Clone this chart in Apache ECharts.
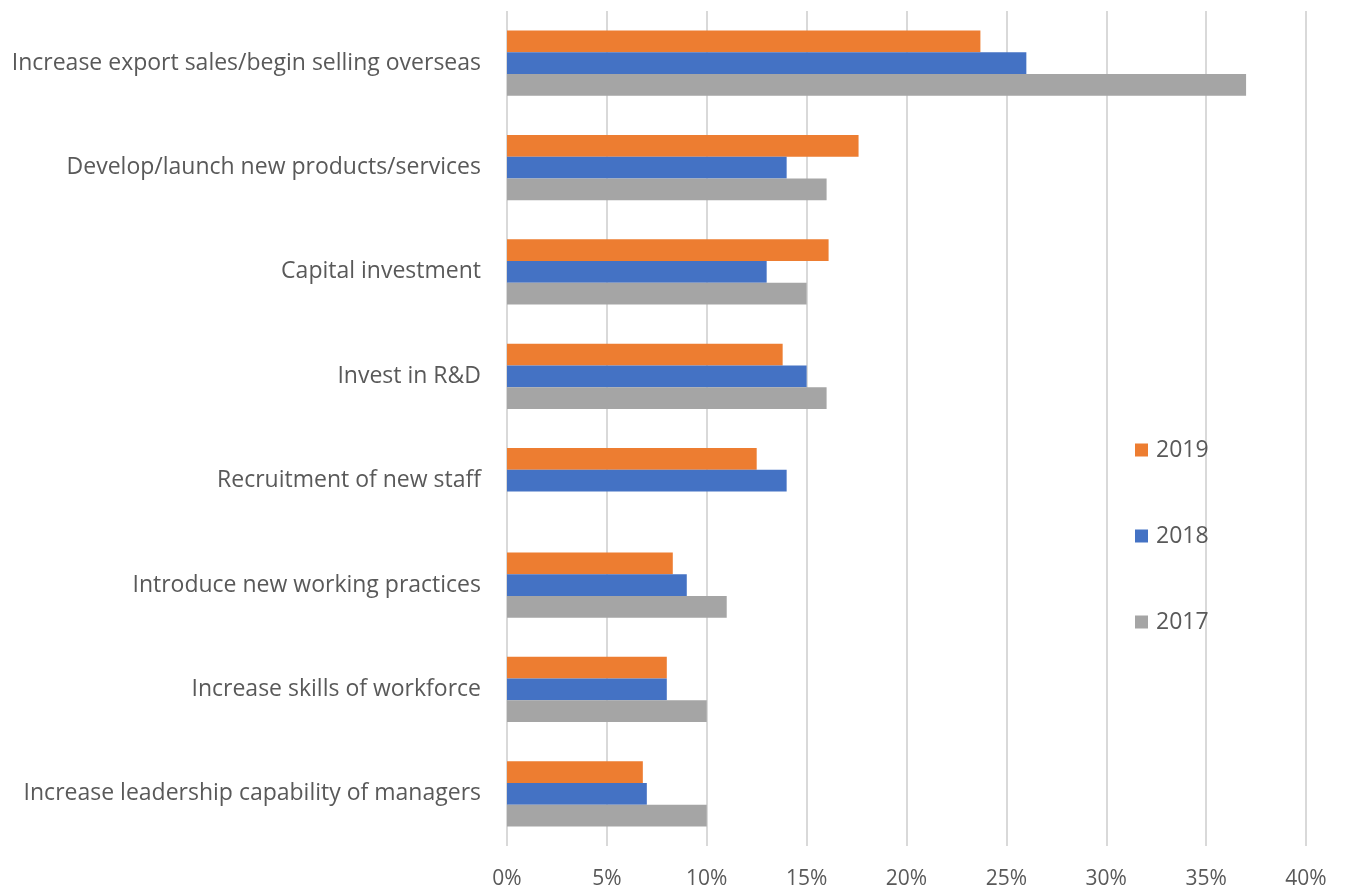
<!DOCTYPE html>
<html>
<head>
<meta charset="utf-8">
<script src="https://cdn.jsdelivr.net/npm/echarts@6/dist/echarts.min.js"></script>
<style>
  html, body { margin: 0; padding: 0; background: #fff; }
  #chart { width: 1345px; height: 894px; }
</style>
</head>
<body>
<div id="chart"></div>
<script>
// Business growth priorities, share of respondents (%)
const categories = [
  'Increase export sales/begin selling overseas',
  'Develop/launch new products/services',
  'Capital investment',
  'Invest in R&D',
  'Recruitment of new staff',
  'Introduce new working practices',
  'Increase skills of workforce',
  'Increase leadership capability of managers'
];
const years = ['2019', '2018', '2017'];
const values2019 = [23.7, 17.6, 16.1, 13.8, 12.5, 8.3, 8.0, 6.8];
const values2018 = [26.0, 14.0, 13.0, 15.0, 14.0, 9.0, 8.0, 7.0];
const values2017 = [37.0, 16.0, 15.0, 16.0, null, 11.0, 10.0, 10.0];
const xTicks = { min: 0, max: 40, interval: 5 };

const colors = ['#ED7D31', '#4472C4', '#A5A5A5'];
const seriesValues = [values2019, values2018, values2017];
const textColor = '#595959';
const fontFamily = 'Open Sans, Liberation Sans, sans-serif';

const chart = echarts.init(document.getElementById('chart'), null, { renderer: 'canvas' });
chart.setOption({
  animation: false,
  backgroundColor: '#ffffff',
  textStyle: { fontFamily: fontFamily },
  grid: { left: 507, right: 39, top: 11, bottom: 48, containLabel: false },
  legend: {
    orient: 'vertical',
    left: 1135,
    top: 438,
    padding: 0,
    itemWidth: 13,
    itemHeight: 13,
    itemGap: 62,
    icon: 'rect',
    data: years,
    textStyle: {
      color: textColor, fontSize: 23, lineHeight: 24,
      fontFamily: fontFamily, padding: [0, 0, 0, 3]
    }
  },
  xAxis: {
    type: 'value',
    min: xTicks.min,
    max: xTicks.max,
    interval: xTicks.interval,
    axisLine: { show: false },
    axisTick: { show: false },
    axisLabel: {
      color: textColor,
      fontSize: 21,
      margin: 23,
      formatter: v => v + '%'
    },
    splitLine: { show: true, lineStyle: { color: '#D9D9D9', width: 2 } }
  },
  yAxis: {
    type: 'category',
    inverse: true,
    data: categories,
    axisLine: { show: false },
    axisTick: { show: false },
    axisLabel: { color: textColor, fontSize: 23, margin: 26 }
  },
  series: years.map((y, i) => ({
    name: y,
    type: 'bar',
    data: seriesValues[i],
    barGap: '0%',
    barCategoryGap: '37.5%',
    itemStyle: { color: colors[i] }
  }))
});
</script>
</body>
</html>
